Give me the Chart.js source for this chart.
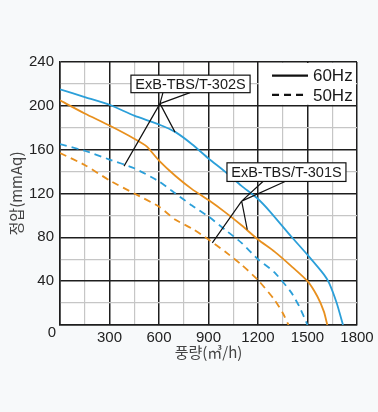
<!DOCTYPE html>
<html>
<head>
<meta charset="utf-8">
<script src="https://cdn.jsdelivr.net/npm/chart.js@4/dist/chart.umd.min.js"></script>
<style>
  html, body { margin: 0; padding: 0; background: #f7f9fa; }
</style>
</head>
<body>
<canvas id="pqChart" width="378" height="412"></canvas>
<script>
// air flow (m3/h) vs static pressure (mmAq)
var t302_60_flow = [0, 150, 300, 450, 600, 700, 800, 900, 1000, 1100, 1200, 1270, 1400, 1500, 1600, 1632, 1677, 1715];
var t302_60_pres = [215, 208, 201, 191, 183, 176, 165, 152, 140, 127, 115, 104, 81, 64, 46, 38, 20, 0];

var t301_60_flow = [0, 150, 300, 450, 525, 600, 700, 800, 900, 1000, 1100, 1200, 1300, 1400, 1500, 1560, 1600, 1620];
var t301_60_pres = [205, 193, 182, 170, 163, 150, 136, 124, 114, 103, 91, 78, 67, 54, 40, 26, 12, 0];

var t302_50_flow = [0, 150, 300, 450, 600, 700, 800, 900, 1000, 1100, 1200, 1300, 1400, 1450, 1500];
var t302_50_pres = [165, 159, 151, 143, 131, 120, 109, 99, 87, 75, 60, 48, 30, 17, 0];

var t301_50_flow = [0, 150, 300, 450, 600, 700, 800, 900, 1000, 1100, 1200, 1300, 1350, 1385];
var t301_50_pres = [157, 146, 132, 120, 108, 96, 88, 78, 67, 55, 41, 23, 11, 0];

var legendNames = ['60Hz', '50Hz'];
var modelNames = ['ExB-TBS/T-302S', 'ExB-TBS/T-301S'];

var BLUE = '#2b9fd9';
var ORANGE = '#e8901e';
var FONT = "'Liberation Sans', Arial, sans-serif";

function toPoints(xs, ys){
  var pts = [];
  for (var i = 0; i < xs.length; i++) pts.push({x: xs[i], y: ys[i]});
  return pts;
}

function series(xs, ys, color, dashed){
  return {
    data: toPoints(xs, ys),
    borderColor: color,
    borderWidth: 1.8,
    borderDash: dashed ? [7, 5] : [],
    pointRadius: 0,
    tension: 0.2,
    fill: false
  };
}

// callouts and legend placed in data units (flow, pressure)
var callouts = [
  {text: modelNames[0], box: [430, 228, 1152, 212], from: [[624, 212], [788, 212]], joint: [606, 202], to: [[697, 176], [388, 145]]},
  {text: modelNames[1], box: [1012, 148, 1733, 131], from: [[1230, 131], [1364, 131]], joint: [1101, 113], to: [[1135, 87], [923, 75]]}
];

var areaPlugin = {
  id: 'areaPlugin',
  beforeDraw: function(chart){
    var a = chart.chartArea, c = chart.ctx;
    c.save();
    c.fillStyle = '#ffffff';
    c.fillRect(a.left, a.top, a.right - a.left, a.bottom - a.top);
    c.restore();
  },
  beforeDatasetsDraw: function(chart){
    // legend corner has no grid
    var sx = chart.scales.x, sy = chart.scales.y, c = chart.ctx;
    var l = sx.getPixelForValue(1200), r = sx.getPixelForValue(1800);
    var t = sy.getPixelForValue(240), b = sy.getPixelForValue(200);
    c.save();
    c.fillStyle = '#ffffff';
    c.fillRect(l + 1, t + 1, r - l - 2, b - t - 2);
    c.restore();
  },
  afterDraw: function(chart){
    var sx = chart.scales.x, sy = chart.scales.y, c = chart.ctx;
    function X(v){ return sx.getPixelForValue(v); }
    function Y(v){ return sy.getPixelForValue(v); }
    c.save();

    // callout boxes with leader lines
    callouts.forEach(function(o){
      c.strokeStyle = '#111';
      c.lineWidth = 1.2;
      c.setLineDash([]);
      c.beginPath();
      o.from.forEach(function(p){
        c.moveTo(X(p[0]), Y(p[1]));
        c.lineTo(X(o.joint[0]), Y(o.joint[1]));
      });
      o.to.forEach(function(p){
        c.moveTo(X(o.joint[0]), Y(o.joint[1]));
        c.lineTo(X(p[0]), Y(p[1]));
      });
      c.stroke();

      var x1 = X(o.box[0]), y1 = Y(o.box[1]), x2 = X(o.box[2]), y2 = Y(o.box[3]);
      c.fillStyle = '#ffffff';
      c.fillRect(x1, y1, x2 - x1, y2 - y1);
      c.lineWidth = 1.2;
      c.strokeRect(x1, y1, x2 - x1, y2 - y1);
      c.fillStyle = '#1a1a1a';
      c.font = '14.5px ' + FONT;
      c.textAlign = 'center';
      c.textBaseline = 'middle';
      c.fillText(o.text, (x1 + x2) / 2, (y1 + y2) / 2 + 1);
    });

    // legend: solid = 60Hz, dashed = 50Hz
    var rows = [{y: 227.6, dash: []}, {y: 210, dash: [7, 5]}];
    rows.forEach(function(row, i){
      c.strokeStyle = '#111';
      c.lineWidth = 2.2;
      c.setLineDash(row.dash);
      c.beginPath();
      c.moveTo(X(1285), Y(row.y));
      c.lineTo(X(1503), Y(row.y));
      c.stroke();
      c.setLineDash([]);
      c.fillStyle = '#1a1a1a';
      c.font = '17px ' + FONT;
      c.textAlign = 'left';
      c.textBaseline = 'middle';
      c.fillText(legendNames[i], X(1533), Y(row.y) + 1);
    });

    // shared origin label
    c.fillStyle = '#222';
    c.font = '15px ' + FONT;
    c.textAlign = 'right';
    c.textBaseline = 'middle';
    c.fillText('0', sx.left - 4, sy.bottom + 8);
    c.restore();
  }
};

function gridColor(step){
  return function(ctx){
    return ctx.tick && ctx.tick.value % step === 0 ? '#1e1e1e' : '#c6c6c6';
  };
}
function gridWidth(step){
  return function(ctx){
    return ctx.tick && ctx.tick.value % step === 0 ? 1.5 : 1.2;
  };
}

var ctx = document.getElementById('pqChart');
var pqChart = new Chart(ctx, {
  type: 'line',
  data: {
    datasets: [
      series(t302_60_flow, t302_60_pres, BLUE, false),
      series(t301_60_flow, t301_60_pres, ORANGE, false),
      series(t302_50_flow, t302_50_pres, BLUE, true),
      series(t301_50_flow, t301_50_pres, ORANGE, true)
    ]
  },
  options: {
    responsive: false,
    animation: false,
    devicePixelRatio: 1,
    layout: { padding: { left: 0, right: 21, top: 62, bottom: 0 } },
    plugins: { legend: { display: false }, tooltip: { enabled: false } },
    scales: {
      x: {
        type: 'linear',
        min: 0, max: 1800,
        afterFit: function(scale){ scale.height = 87; },
        ticks: {
          stepSize: 150,
          autoSkip: false,
          maxRotation: 0,
          padding: 4,
          color: '#222',
          font: { family: FONT, size: 15 },
          callback: function(v){ return (v % 300 === 0 && v !== 0) ? v : ''; }
        },
        grid: { color: gridColor(300), lineWidth: gridWidth(300), drawTicks: false },
        border: { color: '#1e1e1e', width: 1.5 },
        title: {
          display: true,
          text: '풍량(㎥/h)',
          color: '#444',
          font: { family: "'Noto Sans CJK KR', " + FONT, size: 15 },
          padding: { top: 0, bottom: 51 }
        }
      },
      y: {
        min: 0, max: 240,
        afterFit: function(scale){ scale.width = 60; },
        ticks: {
          stepSize: 20,
          autoSkip: false,
          padding: 6,
          color: '#222',
          font: { family: FONT, size: 15 },
          callback: function(v){ return (v % 40 === 0 && v !== 0) ? v : ''; }
        },
        grid: { color: gridColor(40), lineWidth: gridWidth(40), drawTicks: false },
        border: { color: '#1e1e1e', width: 1.5 },
        title: {
          display: true,
          text: '정압(mmAq)',
          color: '#444',
          font: { family: "'Noto Sans CJK KR', " + FONT, size: 15 },
          padding: { top: 7, bottom: 0 }
        }
      }
    }
  },
  plugins: [areaPlugin]
});
</script>
</body>
</html>
